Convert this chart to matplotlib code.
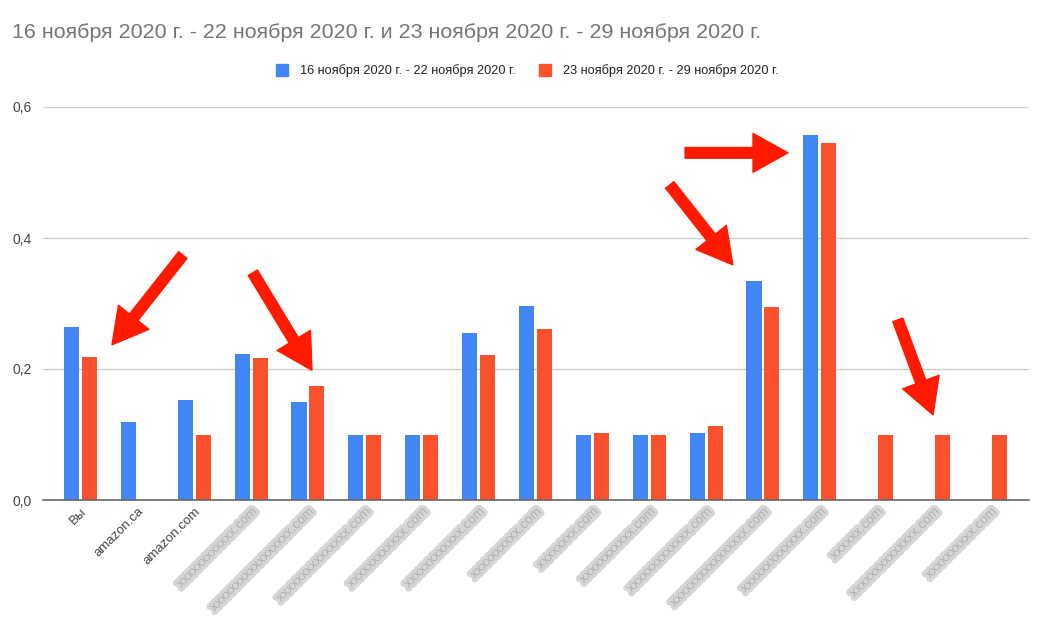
import numpy as np
import matplotlib
matplotlib.use('Agg')
import matplotlib.pyplot as plt
from matplotlib.lines import Line2D
import matplotlib.patheffects as pe

plt.rcParams['font.family'] = ['Liberation Sans', 'DejaVu Sans']

title = "16 ноября 2020 г. - 22 ноября 2020 г. и 23 ноября 2020 г. - 29 ноября 2020 г."
week1_name = "16 ноября 2020 г. - 22 ноября 2020 г."
week2_name = "23 ноября 2020 г. - 29 ноября 2020 г."

# first three sites are readable, the rest are blurred in the original
sites = ["Вы", "amazon.ca", "amazon.com",
         "xxxxxxxxxxxx.com", "xxxxxxxxxxxxxxxxx.com", "xxxxxxxxxxxxxxx.com",
         "xxxxxxxxxxxx.com", "xxxxxxxxxxxx.com", "xxxxxxxxxx.com",
         "xxxxxxxx.com", "xxxxxxxxxxx.com", "xxxxxxxxxxxxx.com",
         "xxxxxxxxxxxxxxxx.com", "xxxxxxxxxxxxx.com", "xxxxxx.com",
         "xxxxxxxxxxxxxx.com", "xxxxxxxxxx.com"]
blurred = [False, False, False] + [True] * 14

week1 = [0.264, 0.119, 0.153, 0.223, 0.150, 0.100, 0.100, 0.255, 0.296,
         0.100, 0.100, 0.102, 0.334, 0.557, np.nan, np.nan, np.nan]
week2 = [0.218, np.nan, 0.100, 0.217, 0.174, 0.100, 0.100, 0.221, 0.261,
         0.102, 0.100, 0.113, 0.295, 0.545, 0.100, 0.100, 0.100]

# hand drawn arrows (tail -> head) in data coords
arrows = [((1.80, 0.374), (0.554, 0.237)),
          ((3.03, 0.347), (4.07, 0.198)),
          ((10.36, 0.481), (11.47, 0.359)),
          ((10.63, 0.530), (12.44, 0.530)),
          ((14.37, 0.275), (14.99, 0.130))]

blue = '#4285f4'
red = '#f9512b'

fig = plt.figure(figsize=(10.48, 6.3), dpi=100)
ax = fig.add_axes([43/1048, 130/630, (1029-43)/1048, (500-107)/630])

X = np.arange(len(sites))
w = 0.264
ax.bar(X - 0.158, week1, width=w, color=blue, zorder=3)
ax.bar(X + 0.158, week2, width=w, color=red, zorder=3)

ax.set_xlim(-0.659, 16.677)
ax.set_ylim(0, 0.6)
ax.set_yticks([0, 0.2, 0.4, 0.6])
ax.set_yticklabels(['0,0', '0,2', '0,4', '0,6'], fontsize=10, color='#444444')
ax.yaxis.grid(True, color='#cccccc', lw=1, zorder=0)
ax.tick_params(axis='y', length=0, pad=8)
ax.tick_params(axis='x', length=0, pad=4)
for s in ['top', 'right', 'left']:
    ax.spines[s].set_visible(False)
ax.spines['bottom'].set_color('#666666')
ax.spines['bottom'].set_linewidth(1.2)
ax.spines['bottom'].set_zorder(4)

ax.set_xticks(X)
ax.set_xticklabels(sites, rotation=45, ha='right', rotation_mode='anchor', fontsize=9.5, color='#444444')
for lbl, b in zip(ax.get_xticklabels(), blurred):
    if b:
        lbl.set_color('#b0b0b0')
        lbl.set_path_effects([pe.withStroke(linewidth=5, foreground='#d6d6d6')])

for tail, head in arrows:
    ax.annotate("", xy=head, xytext=tail, zorder=6,
                arrowprops=dict(arrowstyle="simple,head_length=1.8,head_width=2.0,tail_width=0.55",
                                mutation_scale=14, color='#ff1a00', shrinkA=0, shrinkB=0))

fig.text(12/1048, 1 - 33/630, title, fontsize=15.4, color='#757575', va='center', ha='left')

handles = [Line2D([], [], marker='s', ls='', color=blue, markersize=8),
           Line2D([], [], marker='s', ls='', color=red, markersize=8)]
fig.legend(handles, [week1_name, week2_name], loc='center', bbox_to_anchor=(0.5, 1 - 71/630),
           ncol=2, frameon=False, fontsize=9.2, handletextpad=0.4, columnspacing=1.3,
           labelcolor='#222222')

fig.savefig('out.png', dpi=100, facecolor='white')
